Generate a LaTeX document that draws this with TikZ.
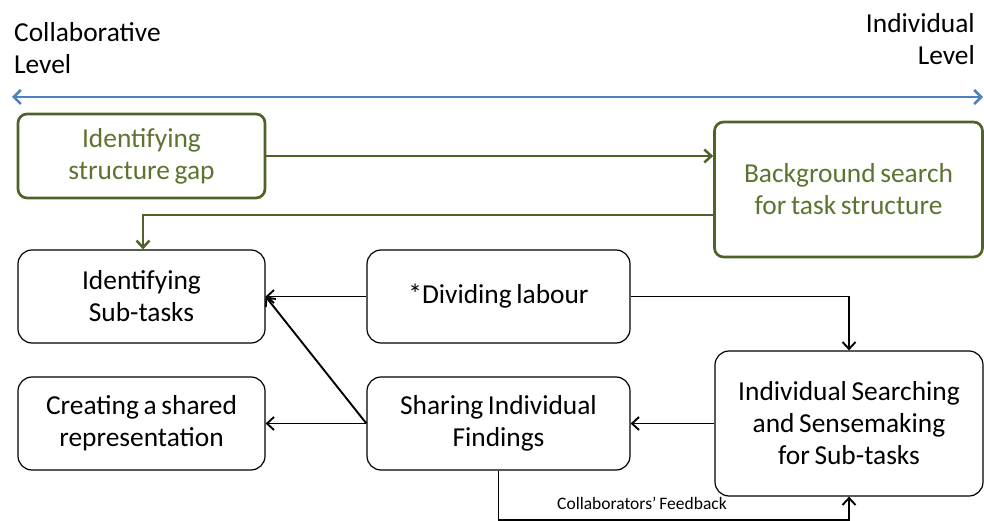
\documentclass[tikz,border=0pt]{standalone}
\usepackage{fontspec}
\setmainfont{Carlito}[WordSpace=0.75]
\usetikzlibrary{arrows.meta}
\definecolor{olive}{RGB}{79,98,40}
\definecolor{olivetext}{RGB}{92,116,48}
\definecolor{lvlblue}{RGB}{79,129,189}
\begin{document}
\begin{tikzpicture}[x=1pt,y=-1pt,
  bigfont/.style={font=\fontsize{27.4}{32}\selectfont},
  box/.style={draw, rounded corners=14pt, line width=1.2pt, align=center, bigfont, inner sep=0pt},
  gbox/.style={draw=olive, text=olivetext, rounded corners=9pt, line width=2.7pt, align=center, bigfont, inner sep=0pt},
  arr/.style={-{Straight Barb[length=7pt,width=13pt,line width=1.9pt]}, line width=1.9pt},
  garr/.style={olive, -{Straight Barb[length=7pt,width=13pt,line width=2.5pt]}, line width=2.5pt}]
\useasboundingbox (0,0) rectangle (984,521);
% level labels
\node[bigfont, anchor=base west, inner sep=0pt] (coll1) at (14,42) {Collaborative};
\node[bigfont, anchor=base west, inner sep=0pt] (coll2) at (14,74) {Level};
\node[bigfont, anchor=base east, inner sep=0pt] (ind1) at (975,33) {Individual};
\node[bigfont, anchor=base east, inner sep=0pt] (ind2) at (975,65) {Level};
\coordinate (lvlL) at (12,97);
\coordinate (lvlR) at (983,97);
\draw[lvlblue, line width=2.8pt, {Straight Barb[length=7pt,width=14pt,line width=2.6pt]}-{Straight Barb[length=7pt,width=14pt,line width=2.6pt]}] (lvlL) -- (lvlR);
% boxes
\node[gbox, minimum width=247pt, minimum height=84pt] (A) at (141.5,156) {Identifying\\structure gap};
\node[gbox, minimum width=268pt, minimum height=135pt] (B) at (848.5,189.5) {Background search\\for task structure};
\node[box, minimum width=247pt, minimum height=93pt] (C) at (141.5,296.5) {Identifying\\Sub-tasks};
\node[box, minimum width=263pt, minimum height=93pt] (D) at (498.5,296.5) {*Dividing labour};
\node[box, minimum width=247pt, minimum height=93pt] (E) at (141.5,423.5) {Creating a shared\\representation};
\node[box, minimum width=263pt, minimum height=93pt] (F) at (498.5,423.5) {Sharing Individual\\Findings};
\node[box, minimum width=268pt, minimum height=145pt] (G) at (849,423.5) {Individual Searching\\and Sensemaking\\for Sub-tasks};
% green connectors
\draw[garr] (A.east) -- (B.west |- A.east);
\draw[garr] ([yshift=-25.5pt]B.west) -| ([xshift=1.5pt]C.north);
% black connectors
\draw[arr] (D.west) -- (C.east);
\draw[arr] (D.east) -| (G.north);
\draw[arr] (F.west) -- (E.east);
\draw[arr] (F.west) -- (C.east);
\draw[arr] (G.west) -- (F.east);
\coordinate (fb) at (0,520.2);
\draw[arr] (F.south) -- (F.south |- fb) -| (G.south);
\node[font=\fontsize{17.5}{20}\selectfont, inner sep=0pt] (fblabel) at (642,503.5) {Collaborators’ Feedback};
\end{tikzpicture}
\end{document}
